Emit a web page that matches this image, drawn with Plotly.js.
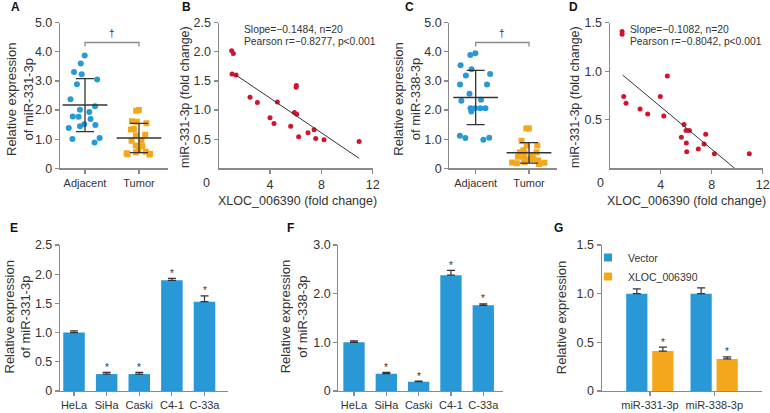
<!DOCTYPE html>
<html>
<head>
<meta charset="utf-8">
<script src="https://cdn.plot.ly/plotly-3.0.1.min.js"></script>
<style>html,body{margin:0;padding:0;background:#fff}#graph{width:770px;height:413px}</style>
</head>
<body>
<div id="graph"></div>
<script>
// panels A and C: tissue expression
var groups = ['Adjacent', 'Tumor'];
var adjacent331 = [3.87, 3.6, 3.31, 3.23, 3.05, 2.89, 2.37, 2.13, 2.01, 1.93, 1.78, 1.77, 1.69, 1.51, 1.49, 1.44, 1.38, 1.04, 1.01, 0.89];
var tumor331 = [2.0, 1.98, 1.62, 1.6, 1.55, 1.35, 1.33, 1.15, 1.13, 0.96, 0.95, 0.78, 0.76, 0.62, 0.57, 0.55, 0.52, 0.5, 0.48, 0.47];
var mean331 = [2.17, 1.04];
var sd331 = [0.91, 0.5];
var adjacent338 = [3.95, 3.89, 3.54, 3.4, 3.24, 3.19, 2.88, 2.88, 2.56, 2.35, 2.32, 2.06, 2.06, 2.06, 2.06, 1.95, 1.12, 1.05, 1.04, 0.98];
var tumor338 = [1.37, 1.37, 0.95, 0.78, 0.78, 0.62, 0.55, 0.55, 0.52, 0.45, 0.4, 0.33, 0.31, 0.3, 0.27, 0.22, 0.2, 0.19, 0.17, 0.15];
var mean338 = [2.43, 0.53];
var sd338 = [0.93, 0.35];

// panels B and D: correlation
var xlocB = [1.01, 1.14, 1.04, 1.35, 2.44, 3.01, 4.57, 4.0, 4.31, 5.61, 6.03, 6.05, 5.9, 6.08, 6.23, 6.96, 7.43, 7.56, 8.21, 10.94];
var mirB = [2.02, 1.97, 1.62, 1.6, 1.22, 1.13, 1.14, 0.87, 0.77, 0.72, 1.39, 1.42, 0.96, 0.93, 0.54, 0.61, 0.66, 0.51, 0.49, 0.46];
var fitBX = [1.35, 10.95];
var fitBY = [1.6, 0.17];
var xlocD = [0.97, 0.97, 1.1, 1.28, 2.38, 2.98, 3.97, 4.52, 4.24, 5.83, 5.62, 5.99, 6.25, 6.01, 6.04, 6.95, 7.4, 7.53, 8.21, 10.95];
var mirD = [1.41, 1.38, 0.74, 0.67, 0.61, 0.56, 0.74, 0.95, 0.54, 0.45, 0.32, 0.39, 0.39, 0.26, 0.17, 0.2, 0.25, 0.35, 0.15, 0.15];
var fitDX = [1.02, 9.8];
var fitDY = [0.96, 0];

// panels E and F: cell lines
var cells = ['HeLa', 'SiHa', 'Caski', 'C4-1', 'C-33a'];
var cell331 = [1.0, 0.29, 0.29, 1.895, 1.53];
var cell331Err = [0.03, 0.03, 0.03, 0.035, 0.1];
var cell338 = [1.0, 0.356, 0.19, 2.38, 1.76];
var cell338Err = [0.03, 0.025, 0.015, 0.1, 0.03];
var cellSig = ['', '*', '*', '*', '*'];

// panel G
var mirs = ['miR-331-3p', 'miR-338-3p'];
var vector = [1.0, 1.0];
var vectorErr = [0.05, 0.06];
var xlocOver = [0.41, 0.33];
var xlocOverErr = [0.04, 0.02];

var blue = '#2899d6';
var orange = '#f5a71c';
var red = '#d0142c';
var dark = '#333';
var axisGray = '#8a8a8a';

function dx(a, b) { return [a / 770, b / 770]; }
function dy(top, bottom) { return [1 - bottom / 413, 1 - top / 413]; }
function px(p) { return p / 770; }
function py(p) { return 1 - p / 413; }

function axis(extra) {
    var a = {
        showline: true, linecolor: axisGray, linewidth: 1.2,
        ticks: 'outside', ticklen: 4, tickcolor: axisGray, tickwidth: 1.2,
        showgrid: false, zeroline: false, fixedrange: true,
        tickfont: {size: 12.5, color: dark},
    };
    for (var k in extra) a[k] = extra[k];
    return a;
}

function dotTrace(y, group, color, symbol, xa, ya) {
    return {
        type: 'box', x0: group, y: y, boxpoints: 'all', jitter: 1, pointpos: 0, width: 0.75,
        fillcolor: 'rgba(0,0,0,0)', line: {width: 0, color: 'rgba(0,0,0,0)'}, whiskerwidth: 0,
        marker: {color: color, size: 6, symbol: symbol},
        xaxis: xa, yaxis: ya, showlegend: false, hoverinfo: 'y',
    };
}

function meanTrace(means, sds, xa, ya) {
    return {
        type: 'scatter', mode: 'markers', x: groups, y: means,
        marker: {symbol: 'line-ew', size: 32, color: dark, line: {width: 1.5, color: dark}},
        error_y: {type: 'data', array: sds, color: dark, thickness: 1.3, width: 9},
        xaxis: xa, yaxis: ya, showlegend: false,
    };
}

function bracketTrace(xa, ya) {
    return {
        type: 'scatter', mode: 'lines', x: [groups[0], groups[0], groups[1], groups[1]], y: [4.18, 4.32, 4.32, 4.18],
        line: {color: '#8a8a8a', width: 1.3}, xaxis: xa, yaxis: ya, showlegend: false, hoverinfo: 'skip',
    };
}

function errBar(err) {
    return {type: 'data', symmetric: false, array: err, arrayminus: err.map(function () { return 0; }),
        color: dark, thickness: 1.2, width: 4};
}

var data = [
    dotTrace(adjacent331, groups[0], blue, 'circle', 'x', 'y'),
    dotTrace(tumor331, groups[1], orange, 'square', 'x', 'y'),
    meanTrace(mean331, sd331, 'x', 'y'),
    bracketTrace('x', 'y'),
    {type: 'scatter', mode: 'markers', x: xlocB, y: mirB, marker: {color: red, size: 5},
        xaxis: 'x2', yaxis: 'y2', showlegend: false},
    {type: 'scatter', mode: 'lines', x: fitBX, y: fitBY, line: {color: dark, width: 1},
        xaxis: 'x2', yaxis: 'y2', showlegend: false},
    dotTrace(adjacent338, groups[0], blue, 'circle', 'x3', 'y3'),
    dotTrace(tumor338, groups[1], orange, 'square', 'x3', 'y3'),
    meanTrace(mean338, sd338, 'x3', 'y3'),
    bracketTrace('x3', 'y3'),
    {type: 'scatter', mode: 'markers', x: xlocD, y: mirD, marker: {color: red, size: 5},
        xaxis: 'x4', yaxis: 'y4', showlegend: false},
    {type: 'scatter', mode: 'lines', x: fitDX, y: fitDY, line: {color: dark, width: 1},
        xaxis: 'x4', yaxis: 'y4', showlegend: false},
    {type: 'bar', x: cells, y: cell331, width: 0.66, marker: {color: blue}, error_y: errBar(cell331Err),
        xaxis: 'x5', yaxis: 'y5', showlegend: false},
    {type: 'bar', x: cells, y: cell338, width: 0.66, marker: {color: blue}, error_y: errBar(cell338Err),
        xaxis: 'x6', yaxis: 'y6', showlegend: false},
    {type: 'bar', x: mirs, y: vector, width: 0.33, offset: -0.37, marker: {color: blue}, error_y: errBar(vectorErr),
        xaxis: 'x7', yaxis: 'y7', showlegend: false},
    {type: 'bar', x: mirs, y: xlocOver, width: 0.33, offset: 0.035, marker: {color: orange}, error_y: errBar(xlocOverErr),
        xaxis: 'x7', yaxis: 'y7', showlegend: false},
    // legend entries
    {type: 'scatter', mode: 'markers', x: [null], y: [null], name: 'Vector',
        marker: {color: blue, symbol: 'square', size: 8}, xaxis: 'x7', yaxis: 'y7'},
    {type: 'scatter', mode: 'markers', x: [null], y: [null], name: 'XLOC_006390',
        marker: {color: orange, symbol: 'square', size: 8}, xaxis: 'x7', yaxis: 'y7'},
];

var topRow = dy(22.7, 168.3);
var bottomRow = dy(245, 391);
var catFont = {size: 11, color: dark};

var layout = {
    width: 770, height: 413,
    margin: {l: 0, r: 0, t: 0, b: 0},
    paper_bgcolor: '#fff', plot_bgcolor: 'rgba(0,0,0,0)',
    font: {family: 'Liberation Sans, Arial, sans-serif', color: dark},
    showlegend: true,
    legend: {x: px(588), y: py(243), xanchor: 'left', yanchor: 'top', bgcolor: 'rgba(0,0,0,0)',
        font: {size: 10.5, color: dark}, tracegroupgap: 0},
    xaxis: axis({domain: dx(60, 168), anchor: 'y', type: 'category', categoryorder: 'array', categoryarray: groups,
        range: [-0.463, 1.537], tickfont: catFont}),
    yaxis: axis({domain: topRow, anchor: 'x', range: [0, 5], tickvals: [0, 1, 2, 3, 4, 5],
        ticktext: ['0', '1.0', '2.0', '3.0', '4.0', '5.0']}),
    xaxis2: axis({domain: dx(218.7, 372.7), anchor: 'y2', range: [0, 12], tickvals: [4, 8, 12]}),
    yaxis2: axis({domain: topRow, anchor: 'x2', range: [0, 2.5], tickvals: [0.5, 1, 1.5, 2, 2.5],
        ticktext: ['0.5', '1.0', '1.5', '2.0', '2.5']}),
    xaxis3: axis({domain: dx(449.3, 557), anchor: 'y3', type: 'category', categoryorder: 'array', categoryarray: groups,
        range: [-0.495, 1.525], tickfont: catFont}),
    yaxis3: axis({domain: topRow, anchor: 'x3', range: [0, 5], tickvals: [0, 1, 2, 3, 4, 5],
        ticktext: ['0', '1.0', '2.0', '3.0', '4.0', '5.0']}),
    xaxis4: axis({domain: dx(609.7, 762.7), anchor: 'y4', range: [0, 12], tickvals: [4, 8, 12]}),
    yaxis4: axis({domain: topRow, anchor: 'x4', range: [0, 1.5], tickvals: [0.5, 1, 1.5],
        ticktext: ['0.5', '1.0', '1.5']}),
    xaxis5: axis({domain: dx(60, 228), anchor: 'y5', type: 'category', range: [-0.43, 4.72], tickfont: catFont}),
    yaxis5: axis({domain: bottomRow, anchor: 'x5', range: [0, 2.5], tickvals: [0, 0.5, 1, 1.5, 2, 2.5],
        ticktext: ['0', '0.5', '1.0', '1.5', '2.0', '2.5']}),
    xaxis6: axis({domain: dx(338.3, 503), anchor: 'y6', type: 'category', range: [-0.486, 4.61], tickfont: catFont}),
    yaxis6: axis({domain: bottomRow, anchor: 'x6', range: [0, 3], tickvals: [0, 1, 2, 3],
        ticktext: ['0', '1.0', '2.0', '3.0']}),
    xaxis7: axis({domain: dx(601.7, 761.7), anchor: 'y7', type: 'category', range: [-0.751, 1.737], tickfont: catFont}),
    yaxis7: axis({domain: bottomRow, anchor: 'x7', range: [0, 1.5], tickvals: [0, 0.5, 1, 1.5],
        ticktext: ['0', '0.5', '1.0', '1.5']}),
    annotations: [],
};

var ann = layout.annotations;
function paperText(text, x, y, size, extra) {
    var a = {text: text, xref: 'paper', yref: 'paper', x: px(x), y: py(y), showarrow: false,
        xanchor: 'center', yanchor: 'middle', font: {size: size, color: dark}};
    for (var k in extra) a[k] = extra[k];
    ann.push(a);
}

// panel letters
[['A', 15, 7], ['B', 186, 7], ['C', 410, 7], ['D', 573, 7], ['E', 14, 228], ['F', 290, 228], ['G', 558, 228]].forEach(function (p) {
    paperText('<b>' + p[0] + '</b>', p[1], p[2], 12, {font: {size: 12, color: '#111'}});
});

// axis titles
paperText('Relative expression<br>of miR-331-3p', 20, 100, 13, {textangle: -90});
paperText('Relative expression<br>of miR-338-3p', 406.7, 99, 13, {textangle: -90});
paperText('miR-331-3p (fold change)', 185, 97, 12.5, {textangle: -90});
paperText('miR-331-3p (fold change)', 575, 97, 12.5, {textangle: -90});
paperText('XLOC_006390 (fold change)', 297, 201, 12.5);
paperText('XLOC_006390 (fold change)', 686, 201, 12.5);
paperText('Relative expression<br>of miR-331-3p', 17.5, 317, 13, {textangle: -90});
paperText('Relative expression<br>of miR-338-3p', 294.3, 317, 13, {textangle: -90});
paperText('Relative expression', 561.7, 317.5, 13, {textangle: -90});

// corner zeros of the scatter panels
paperText('0', 207, 183, 12.5);
paperText('0', 600, 183, 12.5);

// regression statistics
paperText('Slope=\u22120.1484, n=20', 241.7, 29.3, 10.3, {xanchor: 'left'});
paperText('Pearson r=\u22120.8277, p<0.001', 241.7, 41.7, 10.3, {xanchor: 'left'});
paperText('Slope=\u22120.1082, n=20', 628.3, 29.3, 10.3, {xanchor: 'left'});
paperText('Pearson r=\u22120.8042, p<0.001', 628.3, 41.7, 10.3, {xanchor: 'left'});

// significance marks
[['x', 'y'], ['x3', 'y3']].forEach(function (r) {
    ann.push({text: '\u2020', xref: r[0], yref: r[1], x: 0.5, y: 4.64, showarrow: false,
        font: {size: 10, color: dark}});
});
function stars(xa, ya, xs, vals, errs, sig, shift) {
    xs.forEach(function (c, i) {
        if (!sig[i]) return;
        ann.push({text: sig[i], xref: xa, yref: ya, x: i + shift, y: vals[i] + errs[i], yshift: 5,
            yanchor: 'middle', showarrow: false, font: {size: 10, color: dark}});
    });
}
stars('x5', 'y5', cells, cell331, cell331Err, cellSig, 0);
stars('x6', 'y6', cells, cell338, cell338Err, cellSig, 0);
stars('x7', 'y7', mirs, xlocOver, xlocOverErr, ['*', '*'], 0.2);

Plotly.newPlot(document.getElementById('graph'), data, layout, {staticPlot: true});
</script>
</body>
</html>
